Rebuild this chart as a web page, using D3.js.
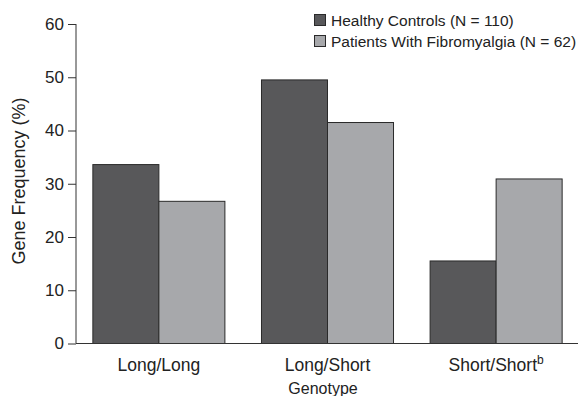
<!DOCTYPE html>
<html><head><meta charset="utf-8">
<script src="https://cdn.jsdelivr.net/npm/d3@7"></script>
<style>body{margin:0;background:#fff}svg{display:block}text{font-family:"Liberation Sans",Arial,sans-serif;fill:#222}</style>
</head><body>
<svg id="c" width="582" height="396"></svg>
<script>
const categories = ["Long/Long", "Long/Short", "Short/Short"];
const superscripts = ["", "", "b"];
const seriesNames = ["Healthy Controls (N = 110)", "Patients With Fibromyalgia (N = 62)"];
const healthy = [33.6, 49.5, 15.5];
const patients = [26.7, 41.5, 30.9];
const yTicks = [0, 10, 20, 30, 40, 50, 60];
const colors = ["#58585a", "#a7a8ab"];

const svg = d3.select("#c");
const x0 = d3.scaleBand().domain(categories).range([76, 579]).paddingInner(0.217).paddingOuter(0.1);
const x1 = d3.scaleBand().domain([0, 1]).range([0, x0.bandwidth()]);
const y = d3.scaleLinear().domain([0, 60]).range([343.5, 24]);

const series = [healthy, patients];
const g = svg.append("g");
categories.forEach((c, i) => {
  series.forEach((s, j) => {
    g.append("rect")
      .attr("x", x0(c) + x1(j))
      .attr("y", y(s[i]))
      .attr("width", x1.bandwidth())
      .attr("height", y(0) - y(s[i]))
      .attr("fill", colors[j])
      .attr("stroke", "#2a2a2a")
      .attr("stroke-width", 1);
  });
});

// y axis
const ya = svg.append("g").attr("transform", "translate(76,0)")
  .call(d3.axisLeft(y).tickValues(yTicks).tickSize(8).tickPadding(4));
ya.attr("font-family", null).attr("font-size", null);
ya.select(".domain").attr("stroke", "#333").attr("d", `M0,${y(60)}V${y(0)}`);
ya.selectAll(".tick line").attr("stroke", "#333");
ya.selectAll(".tick text").attr("font-size", 17).style("fill", "#222");

// x axis line
svg.append("line").attr("x1", 76).attr("x2", 578).attr("y1", y(0)).attr("y2", y(0)).attr("stroke", "#333");

// x labels
categories.forEach((c, i) => {
  const t = svg.append("text").attr("x", x0(c) + x0.bandwidth() / 2).attr("y", 371)
    .attr("text-anchor", "middle").attr("font-size", 17.5).text(c);
  if (superscripts[i]) t.append("tspan").attr("font-size", 12).attr("dy", -7).text(superscripts[i]);
});
svg.append("text").attr("x", 323).attr("y", 394).attr("text-anchor", "middle").attr("font-size", 16).text("Genotype");
svg.append("text").attr("transform", "translate(25,181) rotate(-90)").attr("text-anchor", "middle")
  .attr("font-size", 18).text("Gene Frequency (%)");

// legend
seriesNames.forEach((n, j) => {
  const ly = 20 + j * 21;
  svg.append("rect").attr("x", 314.5).attr("y", ly - 5.5).attr("width", 11).attr("height", 11)
    .attr("fill", colors[j]).attr("stroke", "#2a2a2a");
  svg.append("text").attr("x", 331).attr("y", ly + 5.5).attr("font-size", 15.5).text(n);
});
</script>
</body></html>
